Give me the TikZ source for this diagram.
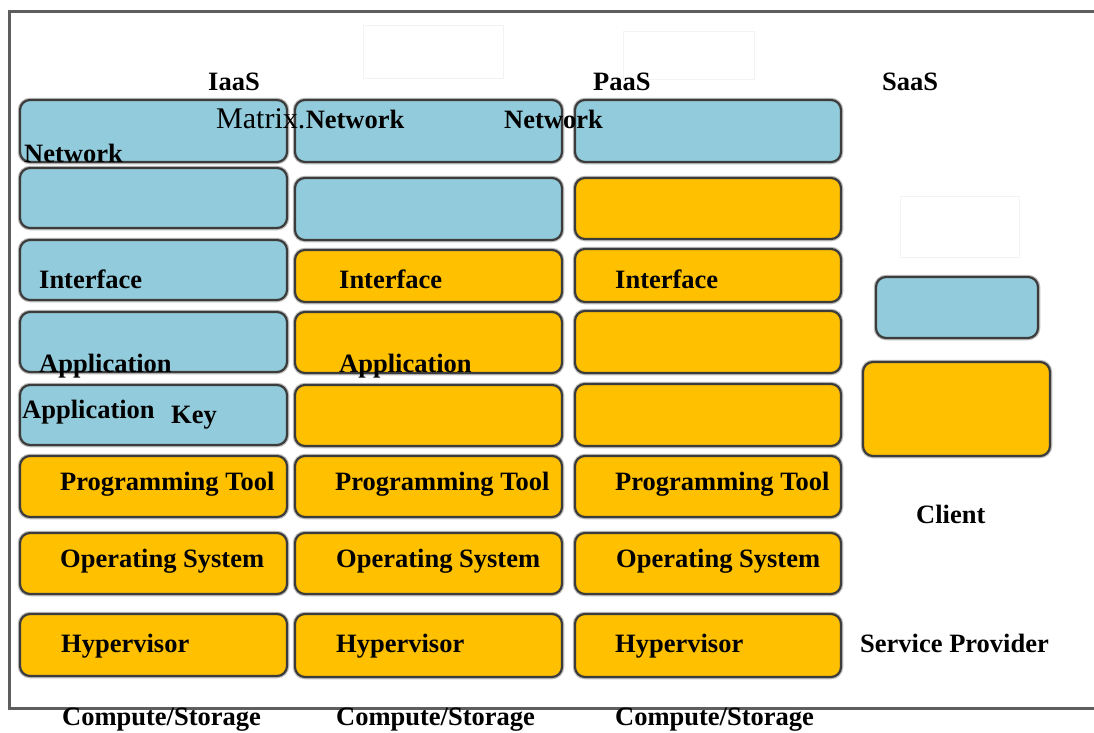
\documentclass[tikz,border=0pt]{standalone}
\usepackage{fontspec}
\setmainfont{Liberation Serif}
\definecolor{skyb}{HTML}{92CBDB}
\definecolor{gold}{HTML}{FFC000}
\definecolor{edge}{HTML}{3C3C3C}
\definecolor{frame}{HTML}{5E5E5E}
\definecolor{faint}{HTML}{F3F3F3}
\tikzset{
  layer/.style={draw=edge, line width=2.2pt, rounded corners=10pt,
    preaction={draw=black!25, line width=4.5pt}},
  bluebox/.style={layer, fill=skyb},
  goldbox/.style={layer, fill=gold},
  lbl/.style={anchor=base west, inner sep=0pt, font=\fontsize{26.5}{30}\selectfont\bfseries},
  big/.style={anchor=base west, inner sep=0pt, font=\fontsize{30}{34}\selectfont},
  ghost/.style={draw=faint, line width=1pt}
}
\begin{document}
\begin{tikzpicture}[x=1pt,y=-1pt]
\useasboundingbox (0,0) rectangle (1094,732);
\clip (0,0) rectangle (1094,732);
\fill[white] (0,0) rectangle (1094,732);
% frame
\draw[frame, line width=3pt] (1100,11) -- (9,11) -- (9,708) -- (1100,708);
% faint shapes
\draw[ghost] (363,25) rectangle (503,78);
\draw[ghost] (623,31) rectangle (754,79);
\draw[ghost] (900,196) rectangle (1019,257);
% column 1
\path[bluebox] (20,100) rectangle (287,162) node[coordinate] (a1) {};
\path[bluebox] (20,168) rectangle (287,228) node[coordinate] (a2) {};
\path[bluebox] (20,240) rectangle (287,300) node[coordinate] (a3) {};
\path[bluebox] (20,312) rectangle (287,372) node[coordinate] (a4) {};
\path[bluebox] (20,385) rectangle (287,445) node[coordinate] (a5) {};
\path[goldbox] (20,456) rectangle (287,517) node[coordinate] (a6) {};
\path[goldbox] (20,533) rectangle (287,594) node[coordinate] (a7) {};
\path[goldbox] (20,614) rectangle (287,676) node[coordinate] (a8) {};
% column 2
\path[bluebox] (295,100) rectangle (562,162) node[coordinate] (b1) {};
\path[bluebox] (295,178) rectangle (562,240) node[coordinate] (b2) {};
\path[goldbox] (295,250) rectangle (562,302) node[coordinate] (b3) {};
\path[goldbox] (295,312) rectangle (562,373) node[coordinate] (b4) {};
\path[goldbox] (295,385) rectangle (562,446) node[coordinate] (b5) {};
\path[goldbox] (295,456) rectangle (562,517) node[coordinate] (b6) {};
\path[goldbox] (295,533) rectangle (562,594) node[coordinate] (b7) {};
\path[goldbox] (295,614) rectangle (562,677) node[coordinate] (b8) {};
% column 3
\path[bluebox] (575,100) rectangle (841,162) node[coordinate] (c1) {};
\path[goldbox] (575,178) rectangle (841,239) node[coordinate] (c2) {};
\path[goldbox] (575,249) rectangle (841,302) node[coordinate] (c3) {};
\path[goldbox] (575,311) rectangle (841,373) node[coordinate] (c4) {};
\path[goldbox] (575,384) rectangle (841,446) node[coordinate] (c5) {};
\path[goldbox] (575,456) rectangle (841,517) node[coordinate] (c6) {};
\path[goldbox] (575,533) rectangle (841,594) node[coordinate] (c7) {};
\path[goldbox] (575,614) rectangle (841,677) node[coordinate] (c8) {};
% SaaS
\path[bluebox] (876,277) rectangle (1038,338) node[coordinate] (s1) {};
\path[goldbox] (863,362) rectangle (1050,456) node[coordinate] (s2) {};
% headings
\node[lbl] (h1) at (208,90) {IaaS};
\node[lbl] (h2) at (593,90) {PaaS};
\node[lbl] (h3) at (882,90) {SaaS};
% labels
\node[big] (m1) at (216,128) {Matrix.};
\node[lbl] (m2) at (m1.base east) {Network};
\node[lbl] (n2) at (504,128) {Network};
\node[lbl] (n1) at (24,162) {Network};
\node[lbl] (i1) at (39,288) {Interface};
\node[lbl] (i2) at (339,288) {Interface};
\node[lbl] (i3) at (615,288) {Interface};
\node[lbl] (p1) at (39,372) {Application};
\node[lbl] (p2) at (339,372) {Application};
\node[lbl] (p3) at (22,418) {Application};
\node[lbl] (k1) at (171,423) {Key};
\node[lbl] (t1) at (60,490) {Programming Tool};
\node[lbl] (t2) at (335,490) {Programming Tool};
\node[lbl] (t3) at (615,490) {Programming Tool};
\node[lbl] (o1) at (60,567) {Operating System};
\node[lbl] (o2) at (336,567) {Operating System};
\node[lbl] (o3) at (616,567) {Operating System};
\node[lbl] (y1) at (61,652) {Hypervisor};
\node[lbl] (y2) at (336,652) {Hypervisor};
\node[lbl] (y3) at (615,652) {Hypervisor};
\node[lbl] (cs1) at (62,725) {Compute/Storage};
\node[lbl] (cs2) at (336,725) {Compute/Storage};
\node[lbl] (cs3) at (615,725) {Compute/Storage};
\node[lbl] (cl) at (916,523) {Client};
\node[lbl] (sp) at (860,652) {Service Provider};
\end{tikzpicture}
\end{document}
